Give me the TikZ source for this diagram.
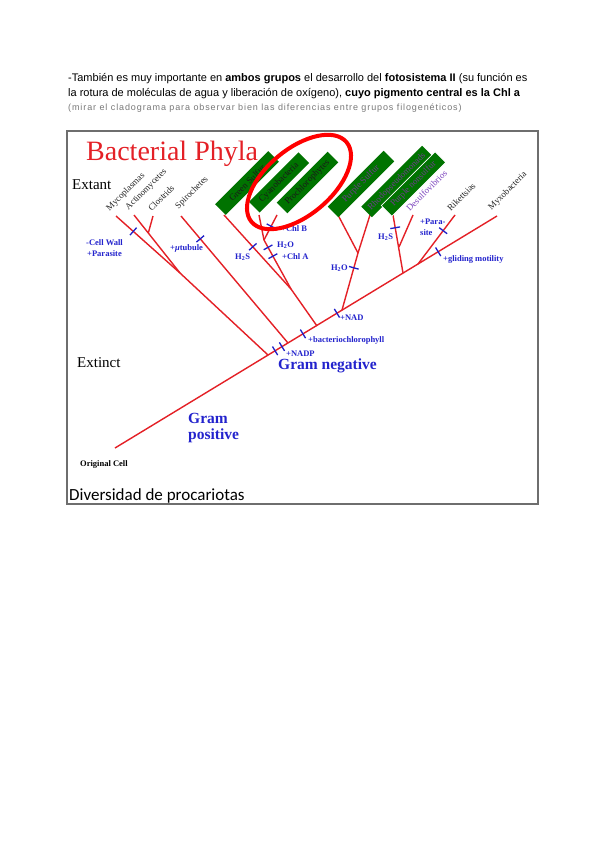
\documentclass[tikz,border=0pt]{standalone}
\usepackage{fontspec}
\setmainfont{Liberation Serif}
\newfontfamily\headfont{Liberation Sans}
\newfontfamily\capfont{Carlito}
\usetikzlibrary{positioning}
\definecolor{treered}{RGB}{228, 32, 38}
\definecolor{tickblue}{RGB}{30, 30, 200}
\definecolor{labblue}{RGB}{35, 35, 205}
\definecolor{boxgreen}{RGB}{0, 115, 0}
\definecolor{boxpurple}{RGB}{110, 60, 140}
\definecolor{desulfo}{RGB}{125, 70, 190}
\definecolor{framegray}{RGB}{110, 110, 110}
\definecolor{notegray}{RGB}{120, 120, 120}
\tikzset{
  branch/.style={draw=treered, line width=1.4pt},
  tickmark/.style={sloped, draw=tickblue, line width=1.3pt, minimum height=10pt, minimum width=0pt, inner sep=0pt},
  traitlab/.style={text=labblue, font=\fontsize{8.5}{10}\selectfont\bfseries, inner sep=0pt, anchor=west},
  tiplab/.style={rotate=45, anchor=south west, inner sep=0pt, font=\fontsize{9}{10}\selectfont, text=black!85},
  phylumbox/.style={rotate=45, fill=boxgreen, minimum height=15pt, inner sep=0pt, font=\fontsize{9}{10}\selectfont},
  greenbox/.style={phylumbox, text=black!90},
  purplebox/.style={phylumbox, text=boxpurple},
  headline/.style={anchor=base west, inner sep=0pt, font=\headfont\fontsize{11}{13}\selectfont},
  bigtitle/.style={anchor=base west, inner sep=0pt},
}
\begin{document}
\begin{tikzpicture}[x=1pt, y=-1pt]
  \useasboundingbox[fill=white] (0,0) rectangle (600,848);
  % header text
  \node[headline] (line1) at (68,82) {-También es muy importante en \textbf{ambos grupos} el desarrollo del \textbf{fotosistema II} (su función es};
  \node[headline] (line2) at (68,97) {la rotura de moléculas de agua y liberación de oxígeno), \textbf{cuyo pigmento central es la Chl a}};
  \node[headline, font=\headfont\fontsize{9}{10}\selectfont\addfontfeature{LetterSpace=10}, text=notegray] (line3) at (68,111) {(mirar el cladograma para observar bien las diferencias  entre grupos filogenéticos)};
  % frame
  \draw[framegray, line width=1.2pt] (67,131) rectangle (538,504);
  \node[bigtitle, text=treered, font=\fontsize{28}{30}\selectfont] (title) at (86,160) {Bacterial Phyla};
  \node[bigtitle, font=\fontsize{15}{17}\selectfont] (extant) at (72,189) {Extant};
  \node[bigtitle, font=\fontsize{15}{17}\selectfont] (extinct) at (77,367) {Extinct};
  \node[bigtitle, font=\bfseries\fontsize{8.5}{10}\selectfont] (origcell) at (80,466) {Original Cell};
  \node[bigtitle, font=\capfont\fontsize{17}{19}\selectfont] (caption) at (69,500) {Diversidad de procariotas};
  % tree points
  \coordinate (root) at (115,448);
  \coordinate (myxo) at (497,216);
  \coordinate (gpj) at (268,355);
  \coordinate (spj) at (288,343);
  \coordinate (gsj) at (317,326);
  \coordinate (nadj) at (342,310);
  \coordinate (dsj) at (403,273);
  \coordinate (rkj) at (418,264);
  \coordinate (myco) at (116,216);
  \coordinate (actino) at (134,215);
  \coordinate (clos) at (153,216);
  \coordinate (closj) at (148.3,233);
  \coordinate (gpk) at (180,273);
  \coordinate (spiro) at (181,216);
  \coordinate (gsul) at (224,215);
  \coordinate (gsk) at (291,289);
  \coordinate (cyano) at (259,215);
  \coordinate (prochl) at (277,215);
  \coordinate (cyk) at (264,240);
  \coordinate (psul) at (338,215);
  \coordinate (rhodo) at (370,215);
  \coordinate (purk) at (358,253);
  \coordinate (pnon) at (393,215);
  \coordinate (desulf) at (413,215);
  \coordinate (desk) at (399,247);
  \coordinate (rik) at (455,215);
  % branches
  \draw[branch] (root) -- (myxo);
  \draw[branch] (myco) -- (gpk) -- (gpj);
  \draw[branch] (actino) -- (gpk);
  \draw[branch] (clos) -- (closj);
  \draw[branch] (spiro) -- (spj);
  \draw[branch] (gsul) -- (gsk) -- (gsj);
  \draw[branch] (cyano) -- (cyk) -- (gsk);
  \draw[branch] (prochl) -- (cyk);
  \draw[branch] (psul) -- (purk) -- (nadj);
  \draw[branch] (rhodo) -- (purk);
  \draw[branch] (pnon) -- (dsj);
  \draw[branch] (desulf) -- (desk);
  \draw[branch] (rkj) -- (rik);
  % trait marks
  \path (root) -- (myxo)
    node[tickmark, pos=0.419] (tkNadpA) {}
    node[tickmark, pos=0.437] (tkNadpB) {}
    node[tickmark, pos=0.492] (tkBchl) {}
    node[tickmark, pos=0.581] (tkNad) {}
    node[tickmark, pos=0.846] (tkGlide) {};
  \path (myco) -- (gpk) node[tickmark, pos=0.27] (tkWall) {};
  \path (spiro) -- (spj) node[tickmark, pos=0.18] (tkTubule) {};
  \path (gsul) -- (gsk) node[tickmark, pos=0.43] (tkGsH) {};
  \path (prochl) -- (cyk) node[tickmark, pos=0.45] (tkChlB) {};
  \path (cyk) -- (gsk)
    node[tickmark, pos=0.15] (tkCyW) {}
    node[tickmark, pos=0.33] (tkChlA) {};
  \path (purk) -- (nadj) node[tickmark, pos=0.26] (tkPuW) {};
  \path (pnon) -- (dsj) node[tickmark, pos=0.22] (tkPnH) {};
  \path (rkj) -- (rik) node[tickmark, pos=0.68] (tkPara) {};
  % trait labels
  \node[traitlab] (wall) at (86,243) {-Cell Wall};
  \node[traitlab] (parasite) at (87,254) {+Parasite};
  \node[traitlab] (tubule) at (170,248) {+{\itshape μ}tubule};
  \node[traitlab] (gsh) at (235,257) {H\textsubscript{2}S};
  \node[traitlab] (cyw) at (277,245) {H\textsubscript{2}O};
  \node[traitlab] (chla) at (282,257) {+Chl A};
  \node[traitlab] (chlb) at (281,229) {+Chl B};
  \node[traitlab, anchor=east] (puw) at (348,268) {H\textsubscript{2}O};
  \node[traitlab] (pnh) at (378,237) {H\textsubscript{2}S};
  \node[traitlab] (para) at (420,222) {+Para-};
  \node[traitlab] (site) at (420,233) {site};
  \node[traitlab] (glide) at (443,259) {+gliding motility};
  \node[traitlab] (nad) at (340,318) {+NAD};
  \node[traitlab] (bchl) at (308,340) {+bacteriochlorophyll};
  \node[traitlab] (nadp) at (286,354) {+NADP};
  \node[traitlab, font=\fontsize{15.5}{17}\selectfont\bfseries] (gramneg) at (278,366) {Gram negative};
  \node[traitlab, font=\fontsize{15.5}{17}\selectfont\bfseries] (gram) at (188,418) {Gram};
  \node[traitlab, font=\fontsize{15.5}{17}\selectfont\bfseries] (positive) at (188,436) {positive};
  % tip labels
  \node[tiplab] (lmyco) at (111,213) {Mycoplasmas};
  \node[tiplab] (lactino) at (130,212) {Actinomycetes};
  \node[tiplab] (lclos) at (152,212) {Clostrids};
  \node[tiplab] (lspiro) at (180,211) {Spirochetes};
  \node[tiplab, text=desulfo] (ldesulf) at (410,212) {Desulfovibrios};
  \node[tiplab] (lrik) at (451,212) {Rikettsias};
  \node[tiplab] (lmyxo) at (493,212) {Myxobacteria};
  % phylum boxes
  \node[greenbox, minimum width=75pt] (gsbox) at (247,183) {Green Sulfur};
  \node[greenbox, minimum width=70pt] (cybox) at (279,182.5) {Cyanobacteria};
  \node[greenbox, minimum width=72pt] (prbox) at (307.5,182.5) {Prochlorophytes};
  \node[purplebox, minimum width=79pt] (psbox) at (361,184) {Purple Sulfur};
  \node[purplebox, minimum width=86pt] (rhbox) at (397,181.5) {Rhodopseudomonads};
  \node[purplebox, minimum width=76pt, draw=white, line width=0.6pt] (pnbox) at (413.5,184) {Purple nonsulfur};
  % highlight
  \draw[red, line width=4pt, rotate around={40:(299,182)}] (299,182) ellipse (62 and 33);
\end{tikzpicture}
\end{document}
